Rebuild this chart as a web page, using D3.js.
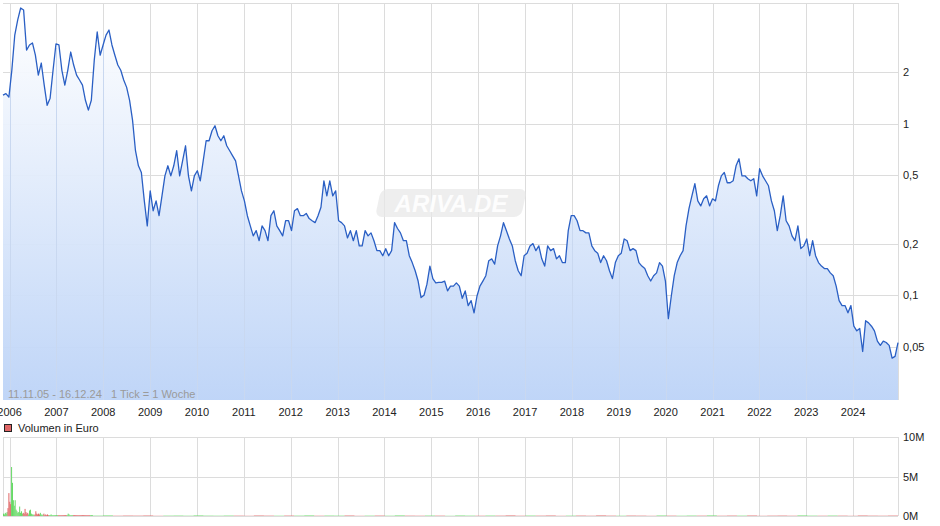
<!DOCTYPE html>
<html><head><meta charset="utf-8">
<script src="https://cdn.jsdelivr.net/npm/d3@7"></script>
<style>
body{margin:0;background:#fff;font-family:"Liberation Sans",Arial,sans-serif;}
text{font-family:"Liberation Sans",Arial,sans-serif;}
</style></head>
<body><svg id="chart" width="940" height="526"></svg>
<script>
// Kurs (EUR), gleichmaessig von 11.11.05 bis 16.12.24 verteilt
var prices = [1.47,1.50,1.43,2.05,3.29,4.03,4.73,4.61,2.69,2.88,2.96,2.51,1.92,2.26,1.68,1.28,1.41,2.05,2.92,2.88,
2.05,1.68,2.05,2.62,2.20,1.92,1.80,1.68,1.37,1.20,1.37,2.35,3.43,2.51,2.88,3.29,3.52,2.88,2.51,2.20,
2.05,1.80,1.63,1.37,1.05,0.696,0.569,0.52,0.355,0.254,0.406,0.311,0.355,0.291,0.38,0.497,0.569,0.497,0.569,0.696,
0.497,0.608,0.744,0.497,0.406,0.497,0.532,0.465,0.608,0.796,0.796,0.91,0.973,0.851,0.796,0.851,0.744,0.696,0.65,0.608,
0.497,0.406,0.355,0.291,0.254,0.222,0.238,0.208,0.254,0.238,0.208,0.291,0.311,0.254,0.238,0.222,0.272,0.272,0.238,0.311,
0.32,0.291,0.291,0.30,0.28,0.272,0.265,0.291,0.326,0.465,0.38,0.465,0.38,0.406,0.272,0.265,0.254,0.216,0.238,0.208,
0.238,0.194,0.194,0.238,0.222,0.231,0.208,0.182,0.182,0.17,0.187,0.17,0.182,0.265,0.245,0.231,0.208,0.208,0.17,0.155,
0.139,0.121,0.097,0.10,0.116,0.148,0.125,0.118,0.119,0.119,0.121,0.106,0.113,0.113,0.118,0.113,0.096,0.106,0.087,0.093,
0.079,0.099,0.113,0.121,0.13,0.159,0.163,0.152,0.194,0.222,0.265,0.238,0.213,0.194,0.159,0.139,0.13,0.17,0.176,0.194,
0.20,0.182,0.194,0.163,0.148,0.194,0.182,0.187,0.163,0.17,0.155,0.155,0.238,0.291,0.291,0.272,0.238,0.238,0.231,0.231,
0.194,0.182,0.176,0.155,0.17,0.159,0.139,0.125,0.155,0.17,0.176,0.213,0.208,0.182,0.187,0.182,0.155,0.148,0.143,0.13,
0.121,0.13,0.135,0.155,0.148,0.121,0.073,0.099,0.13,0.155,0.17,0.182,0.254,0.32,0.38,0.447,0.355,0.332,0.365,0.38,
0.332,0.365,0.355,0.435,0.497,0.52,0.453,0.453,0.465,0.569,0.625,0.497,0.497,0.478,0.465,0.478,0.38,0.547,0.497,0.465,
0.435,0.355,0.311,0.238,0.291,0.38,0.272,0.254,0.222,0.208,0.254,0.187,0.194,0.213,0.17,0.208,0.17,0.155,0.148,0.143,
0.143,0.135,0.13,0.113,0.093,0.087,0.087,0.079,0.087,0.066,0.062,0.064,0.047,0.071,0.069,0.066,0.062,0.054,0.051,0.054,
0.053,0.051,0.043,0.044,0.053];
var startDate = new Date(2005, 10, 11), endDate = new Date(2024, 11, 16);
var years = d3.range(2006, 2025);
var yTicks = [2, 1, 0.5, 0.2, 0.1, 0.05];
var yTickLabels = ["2", "1", "0,5", "0,2", "0,1", "0,05"];
// Volumen (Mio. EUR) woechentlich, Anfangsphase
var volEarly = [0.3,0.2,0.4,0.3,0.5,1.0,2.9,1.8,1.5,6.2,4.2,2.0,1.3,2.0,0.8,0.6,0.4,0.5,1.2,0.4,
0.6,0.3,0.4,0.3,0.9,0.5,0.3,0.4,0.2,0.7,0.8,0.3,0.2,0.2,0.1,0.2,0.6,0.3,0.2,0.3,
0.2,0.4,0.2,0.1,0.2,0.3,0.1,0.2,0.1,0.2,0.1,0.1,0.1,0.2,0.1,0.1,0.1,0.1,0.1,0.1,
0.1,0.1,0.1,0.1,0.1,0.1,0.1,0.1,0.1,0.1,0.1,0.1,0.3,0.2,0.1,0.1,0.1,0.1,0.1,0.1,
0.1,0.1,0.1,0.1,0.1,0.1,0.1,0.1,0.1,0.1,0.1,0.1,0.1,0.1,0.1,0.1,0.1,0.1,0.1,0.1];
var volLater = [0.05,0.08,0.04,0.06,0.05,0.07,0.03,0.05,0.06,0.04,0.08,0.05,0.04,0.06,0.05,0.03,0.07,0.05,0.04,0.06,
0.05,0.08,0.04,0.06,0.05,0.07,0.03,0.05,0.06,0.04,0.08,0.05,0.04,0.06,0.05,0.03,0.07,0.05,0.04,0.06,
0.05,0.08,0.04,0.06,0.05,0.07,0.03,0.05,0.06,0.04,0.08,0.05,0.04,0.06,0.05,0.03,0.07,0.05,0.04,0.06,
0.05,0.08,0.04,0.06,0.05,0.07,0.03,0.05,0.06,0.04,0.08,0.05,0.04,0.06,0.05,0.03,0.07,0.05,0.04,0.06];

var svg = d3.select("#chart");
var L = 3, R = 898, T = 3, B = 400, VT = 437, VB = 516;
var x = d3.scaleTime().domain([startDate, endDate]).range([L, R]);
var y = d3.scaleLog().domain([0.0245, 5.06]).range([B, T]);
var yv = d3.scaleLinear().domain([0, 10]).range([VB, VT]);
var tStep = (endDate - startDate) / (prices.length - 1);
var pts = prices.map(function(p, i){ return {d: new Date(+startDate + i * tStep), v: p}; });

var defs = svg.append("defs");
var g = defs.append("linearGradient").attr("id","fill").attr("x1",0).attr("y1",0).attr("x2",0).attr("y2",1);
g.append("stop").attr("offset","0%").attr("stop-color","#ffffff");
g.append("stop").attr("offset","100%").attr("stop-color","#bcd3f7");

// Grid
var grid = svg.append("g").attr("stroke","#dcdcdc").attr("stroke-width",1);
years.forEach(function(yr){
  var xx = Math.round(x(new Date(yr,0,1))) + 0.5;
  grid.append("line").attr("x1",xx).attr("x2",xx).attr("y1",T).attr("y2",B);
  grid.append("line").attr("x1",xx).attr("x2",xx).attr("y1",VT).attr("y2",VB);
});
yTicks.forEach(function(t){
  var yy = Math.round(y(t)) + 0.5;
  grid.append("line").attr("x1",L).attr("x2",R).attr("y1",yy).attr("y2",yy);
});
grid.append("line").attr("x1",L).attr("x2",R).attr("y1",T+0.5).attr("y2",T+0.5);
[0,5,10].forEach(function(t){
  var yy = Math.round(yv(t)) + 0.5;
  grid.append("line").attr("x1",L).attr("x2",R).attr("y1",yy).attr("y2",yy);
});
grid.append("line").attr("x1",R+0.5).attr("x2",R+0.5).attr("y1",T).attr("y2",B);
grid.append("line").attr("x1",R+0.5).attr("x2",R+0.5).attr("y1",VT).attr("y2",VB);
grid.append("line").attr("x1",L+0.5).attr("x2",L+0.5).attr("y1",VT).attr("y2",VB);

// Area + line
svg.append("path").datum(pts).attr("fill","url(#fill)").attr("opacity",0.95)
  .attr("d", d3.area().x(function(d){return x(d.d);}).y0(B).y1(function(d){return y(d.v);}));
svg.append("g").attr("stroke","#c9d8f0").attr("stroke-width",1).selectAll("line").data(years).join("line")
  .attr("x1",function(d){return Math.round(x(new Date(d,0,1)))+0.5;}).attr("x2",function(d){return Math.round(x(new Date(d,0,1)))+0.5;})
  .attr("y1",function(d){ var i = d3.bisector(function(p){return p.d;}).left(pts, new Date(d,0,1)); return y(pts[Math.min(i,pts.length-1)].v)+3;}).attr("y2",B);

// Watermark
var wm = svg.append("g").attr("transform","translate(451,203)");
wm.append("rect").attr("x",-73).attr("y",-14).attr("width",146).attr("height",28).attr("rx",7)
  .attr("fill","#e8e8e8").attr("opacity",0.75).attr("transform","skewX(-12)");
wm.append("text").attr("text-anchor","middle").attr("dy","0.36em").attr("font-size",24).attr("font-style","italic")
  .attr("font-weight","bold").attr("fill","#ffffff").attr("opacity",0.9).text("ARIVA.DE");

svg.append("path").datum(pts).attr("fill","none").attr("stroke","#2a5fc4").attr("stroke-width",1.3)
  .attr("stroke-linejoin","round")
  .attr("d", d3.line().x(function(d){return x(d.d);}).y(function(d){return y(d.v);}));

svg.append("text").attr("x",8).attr("y",398).attr("font-size",11).attr("fill","#9a9a9a")
  .text("11.11.05 - 16.12.24   1 Tick = 1 Woche").attr("xml:space","preserve");

// Axis labels
svg.append("g").selectAll("text").data(years).join("text")
  .attr("x",function(d){return x(new Date(d,0,1));}).attr("y",416).attr("text-anchor","middle")
  .attr("font-size",11).attr("fill","#222").text(function(d){return d;});
svg.append("g").selectAll("text").data(yTicks).join("text")
  .attr("x",903).attr("y",function(d){return y(d)+4;}).attr("font-size",11).attr("fill","#222")
  .text(function(d,i){return yTickLabels[i];});
svg.append("g").selectAll("text").data([0,5,10]).join("text")
  .attr("x",903).attr("y",function(d){return yv(d)+4;}).attr("font-size",11).attr("fill","#222")
  .text(function(d){return d+"M";});

// Legend
svg.append("rect").attr("x",4.5).attr("y",424.5).attr("width",7).attr("height",7).attr("fill","#e06666").attr("stroke","#222");
svg.append("text").attr("x",18).attr("y",432).attr("font-size",11).attr("fill","#222").text("Volumen in Euro");

// Volume bars
var week = 7*24*3600*1000;
function priceAt(t){ var i = Math.min(prices.length-1, Math.max(1, Math.round((t - startDate)/tStep))); return i; }
function barColor(t){ var i = priceAt(+t); return prices[i] >= prices[i-1] ? "#66d966" : "#e06666"; }
var vb = svg.append("g");
volEarly.forEach(function(v,i){
  var t = new Date(+startDate + i*week);
  vb.append("rect").attr("x",x(t)).attr("width",1).attr("y",yv(v)).attr("height",VB-yv(v)).attr("fill",barColor(t));
});
var laterStart = +startDate + volEarly.length*week, laterStep = (endDate - laterStart)/volLater.length;
volLater.forEach(function(v,i){
  var t = new Date(laterStart + i*laterStep);
  vb.append("rect").attr("x",x(t)).attr("width",x(new Date(+t+laterStep))-x(t)).attr("y",yv(v)).attr("height",VB-yv(v)).attr("fill",barColor(t)).attr("opacity",0.8);
});
</script></body></html>
